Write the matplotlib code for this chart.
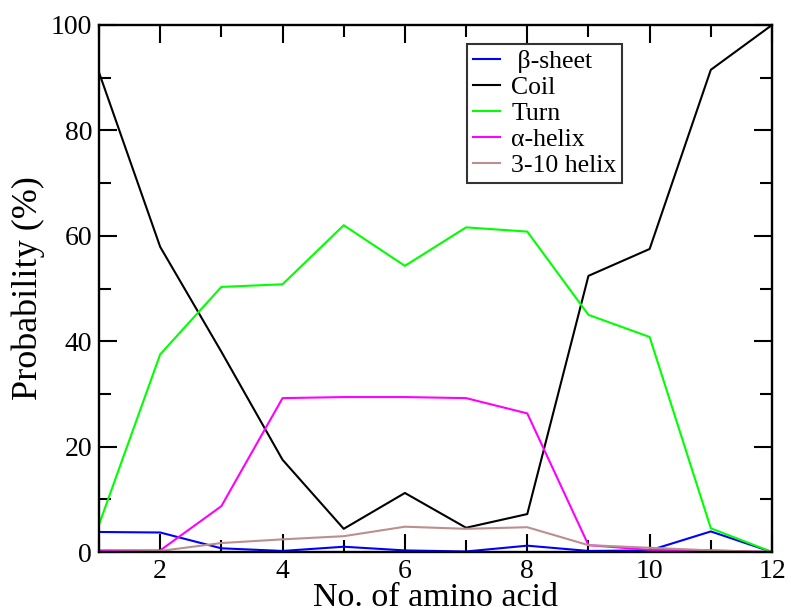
import matplotlib
matplotlib.use("Agg")
import matplotlib.pyplot as plt
from matplotlib.ticker import MultipleLocator

plt.rcParams["font.family"] = ["Liberation Serif", "DejaVu Serif"]

# residue index along the peptide
positions = [1, 2, 3, 4, 5, 6, 7, 8, 9, 10, 11, 12]

# probability (%) of each secondary structure
beta_sheet = [3.8, 3.7, 0.7, 0.2, 1.0, 0.3, 0.1, 1.2, 0.2, 0.3, 3.9, 0.0]
coil = [91.0, 57.9, 38.0, 17.5, 4.4, 11.2, 4.6, 7.2, 52.4, 57.5, 91.5, 100.0]
turn = [5.2, 37.5, 50.3, 50.8, 62.0, 54.3, 61.6, 60.8, 45.0, 40.8, 4.5, 0.0]
alpha_helix = [0.3, 0.3, 8.7, 29.2, 29.4, 29.4, 29.2, 26.3, 1.3, 0.4, 0.3, 0.0]
helix_310 = [0.0, 0.2, 1.7, 2.4, 3.0, 4.8, 4.4, 4.7, 1.3, 0.8, 0.3, 0.0]

series = [
    (" \u03b2-sheet", beta_sheet, "#0000ff"),
    ("Coil", coil, "#000000"),
    ("Turn", turn, "#00ff00"),
    ("\u03b1-helix", alpha_helix, "#ff00ff"),
    ("3-10 helix", helix_310, "#bc8f8f"),
]

W, H = 791, 613
fig = plt.figure(figsize=(W / 100, H / 100), dpi=100)
fig.patch.set_facecolor("white")

# plot frame in pixels: left 99, right 772, top 25, bottom 552
ax = fig.add_axes([99 / W, 1 - 552 / H, (772 - 99) / W, (552 - 25) / H])

for label, values, color in series:
    ax.plot(positions, values, color=color, linewidth=1.5, label=label)

ax.set_xlim(1, 12)
ax.set_ylim(0, 100)
ax.xaxis.set_major_locator(MultipleLocator(2))
ax.xaxis.set_minor_locator(MultipleLocator(1))
ax.yaxis.set_major_locator(MultipleLocator(20))
ax.yaxis.set_minor_locator(MultipleLocator(10))

ax.tick_params(which="both", direction="in", top=True, right=True,
               width=1.5, colors="black")
ax.tick_params(which="major", length=13, labelsize=20, pad=5)
ax.tick_params(which="minor", length=8.5)

for spine in ax.spines.values():
    spine.set_linewidth(1.7)

# the reference label runs off the bottom edge; keep it just inside
ax.set_xlabel("No. of amino acid", fontsize=24.5, labelpad=-1)
ax.set_ylabel("Probability (%)", fontsize=26, labelpad=4)

leg = ax.legend(loc="upper left", bbox_to_anchor=(467 / W, 1 - 44 / H),
                bbox_transform=fig.transFigure, borderaxespad=0,
                fontsize=18.5, frameon=True, fancybox=False, shadow=False,
                handlelength=1.05, handletextpad=0.45, labelspacing=0.12,
                borderpad=0.22)
leg.get_frame().set_edgecolor("black")
leg.get_frame().set_linewidth(1.5)

fig.savefig("out.png", dpi=100, facecolor="white")
